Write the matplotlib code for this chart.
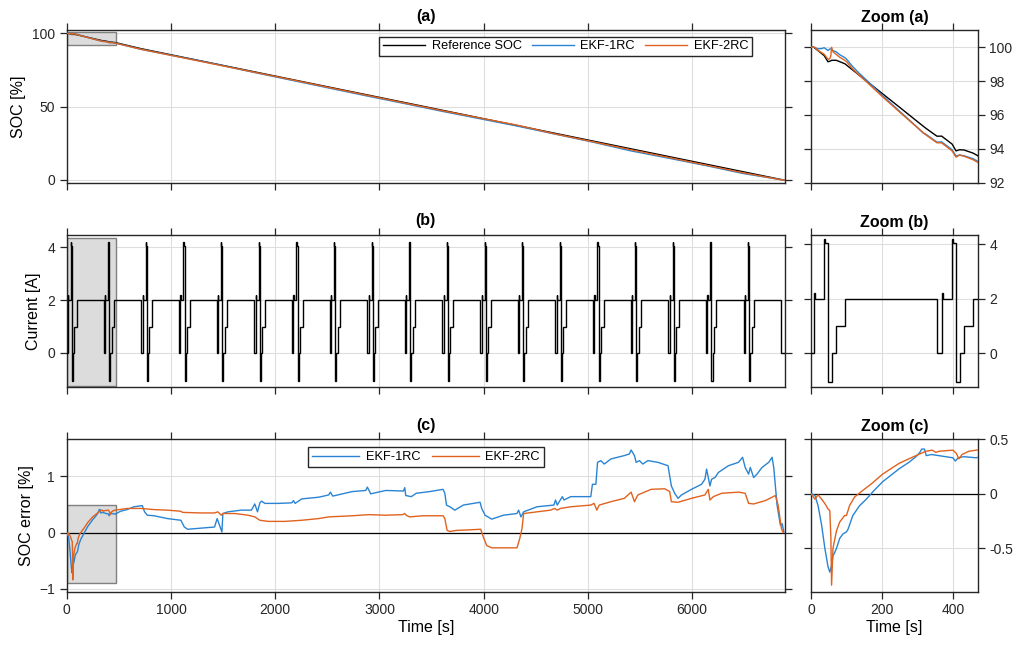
import matplotlib
matplotlib.use('Agg')
import matplotlib.pyplot as plt
from matplotlib.patches import Rectangle
import numpy as np

plt.rcParams['font.family'] = ['Liberation Sans', 'DejaVu Sans']

# ---- current profile: one pulse cycle (b) / Zoom (b)
cycle_levels = [0, 2.2, 2.0, 4.2, 4.05, -1.05, 0, 1.0, 2.0]     # A
cycle_durations = [14, 2, 27, 3, 8, 10, 13, 25, 259]            # s
n_cycles = 19
first_cycle_start = -6
t_end = 6890

# ---- SOC [%]: reference and estimates
soc_t = [0, 8, 10, 20, 30, 37, 40, 48, 53, 56, 58, 62, 71, 81, 96, 100, 118, 137,
         156, 202, 249, 296, 317, 323, 355, 369, 371, 398, 401, 409, 419, 432, 457,
         470, 716, 1077, 1438, 1799, 2160, 2521, 2882, 3243, 3604, 3965, 4326,
         4687, 5048, 5409, 5770, 6131, 6492, 6853, 6890]
soc_ref = [100, 100, 99.96, 99.8, 99.63, 99.51, 99.41, 99.14, 99.18, 99.2, 99.23,
           99.23, 99.23, 99.15, 99.02, 98.95, 98.65, 98.33, 98.02, 97.25, 96.47,
           95.68, 95.33, 95.23, 94.75, 94.75, 94.71, 94.28, 94.17, 93.88, 93.95,
           93.93, 93.75, 93.6, 89.45, 84.2, 78.95, 73.7, 68.45, 63.2, 57.95, 52.7,
           47.45, 42.2, 36.95, 31.7, 26.45, 21.2, 15.95, 10.7, 5.45, 0.2, 0.0]
soc_1rc = [100, 100, 99.98, 99.91, 99.92, 99.97, 99.93, 99.81, 99.9, 99.9, 99.89,
           99.8, 99.73, 99.56, 99.38, 99.3, 98.85, 98.44, 98.07, 97.14, 96.24,
           95.34, 94.92, 94.88, 94.4, 94.41, 94.37, 93.95, 93.84, 93.58, 93.64,
           93.59, 93.42, 93.27, 88.98, 83.94, 78.85, 73.25, 67.9, 62.54, 57.17,
           52.0, 46.69, 41.66, 36.6, 31.15, 25.7, 19.78, 14.8, 9.7, 4.25, 0.05, 0.0]
soc_2rc = [100, 100, 100, 99.81, 99.68, 99.59, 99.51, 99.28, 99.33, 99.5, 100.0,
           99.73, 99.58, 99.41, 99.22, 99.15, 98.71, 98.33, 97.97, 97.07, 96.19,
           95.33, 94.95, 94.84, 94.36, 94.35, 94.31, 93.88, 93.77, 93.51, 93.63,
           93.56, 93.36, 93.2, 89.02, 83.82, 78.6, 73.42, 68.24, 62.92, 57.64,
           52.38, 47.15, 42.14, 37.22, 31.26, 25.96, 20.55, 15.3, 10.03, 4.75, 0.0, 0.0]

# ---- SOC error [%] (reference - estimate)
err1_t = [0, 11, 20, 30, 39, 48, 53, 58, 62, 67, 72, 81, 90, 100, 104, 118, 137, 156,
          175, 202, 249, 277, 296, 307, 312, 320, 325, 340, 360, 380, 400, 407, 415,
          431, 466, 516, 580, 644, 725, 747, 773, 838, 967, 1095, 1128, 1160, 1289,
          1418, 1443, 1466, 1489, 1498, 1547, 1676, 1772, 1804, 1830, 1853, 1869,
          1901, 2030, 2159, 2175, 2191, 2255, 2417, 2513, 2529, 2552, 2739, 2868,
          2884, 2916, 3061, 3230, 3243, 3252, 3305, 3353, 3482, 3610, 3627, 3643,
          3675, 3723, 3804, 3965, 3981, 4013, 4077, 4190, 4319, 4335, 4357, 4383,
          4512, 4673, 4689, 4705, 4754, 4770, 4834, 5027, 5043, 5076, 5092, 5124,
          5156, 5220, 5349, 5398, 5414, 5446, 5462, 5494, 5526, 5575, 5671, 5768,
          5800, 5832, 5864, 5897, 5993, 6090, 6122, 6138, 6154, 6170, 6186, 6219,
          6251, 6347, 6444, 6483, 6508, 6541, 6557, 6589, 6621, 6670, 6734, 6766,
          6782, 6814, 6846, 6863, 6879]
err1 = [0, -0.015, -0.11, -0.29, -0.5, -0.67, -0.72, -0.66, -0.57, -0.54, -0.5,
        -0.41, -0.37, -0.35, -0.33, -0.2, -0.11, -0.05, 0.02, 0.11, 0.23, 0.29, 0.34,
        0.38, 0.41, 0.41, 0.35, 0.36, 0.35, 0.34, 0.33, 0.30, 0.33, 0.34, 0.33, 0.38,
        0.41, 0.46, 0.48, 0.37, 0.31, 0.30, 0.25, 0.22, 0.10, 0.06, 0.08, 0.10, 0.25,
        0.13, 0.01, 0.34, 0.37, 0.40, 0.40, 0.51, 0.37, 0.53, 0.56, 0.52, 0.52, 0.53,
        0.57, 0.52, 0.60, 0.63, 0.67, 0.72, 0.65, 0.73, 0.75, 0.81, 0.69, 0.75, 0.74,
        0.80, 0.66, 0.64, 0.70, 0.73, 0.77, 0.70, 0.49, 0.46, 0.40, 0.49, 0.54, 0.43,
        0.31, 0.24, 0.31, 0.34, 0.40, 0.28, 0.37, 0.46, 0.49, 0.58, 0.49, 0.64, 0.58,
        0.64, 0.64, 0.86, 0.86, 1.25, 1.28, 1.22, 1.31, 1.37, 1.40, 1.47, 1.37, 1.25,
        1.28, 1.22, 1.28, 1.25, 1.19, 0.83, 0.70, 0.61, 0.67, 0.77, 0.86, 0.95, 1.13,
        0.98, 0.83, 0.95, 0.98, 1.07, 1.19, 1.25, 1.34, 1.16, 1.04, 1.16, 0.98, 1.04,
        1.16, 1.25, 1.34, 1.16, 0.49, 0.13, 0.16, 0.01]

err2_t = [0, 11, 20, 30, 39, 48, 53, 56, 58, 62, 72, 81, 95, 100, 109, 123, 146, 170,
          202, 249, 296, 324, 342, 352, 361, 400, 410, 417, 426, 445, 466, 580, 709,
          838, 967, 1095, 1111, 1289, 1418, 1450, 1482, 1498, 1611, 1740, 1804, 1853,
          1933, 2094, 2255, 2417, 2513, 2739, 2900, 3061, 3222, 3243, 3256, 3288,
          3417, 3610, 3627, 3649, 3675, 3739, 3868, 3971, 3997, 4029, 4077, 4319,
          4345, 4367, 4383, 4512, 4641, 4680, 4705, 4737, 4834, 5027, 5059, 5085,
          5108, 5220, 5349, 5414, 5446, 5478, 5607, 5736, 5784, 5800, 5864, 5993,
          6122, 6154, 6170, 6203, 6283, 6444, 6508, 6541, 6589, 6702, 6798, 6824,
          6856, 6872]
err2 = [0, -0.05, -0.01, -0.05, -0.09, -0.14, -0.155, -0.4, -0.84, -0.5, -0.34,
        -0.26, -0.2, -0.2, -0.107, -0.03, 0.03, 0.09, 0.18, 0.28, 0.35, 0.39, 0.40,
        0.38, 0.39, 0.40, 0.37, 0.32, 0.36, 0.39, 0.40, 0.43, 0.43, 0.41, 0.40, 0.38,
        0.36, 0.35, 0.35, 0.37, 0.31, 0.34, 0.34, 0.31, 0.28, 0.22, 0.20, 0.20, 0.22,
        0.25, 0.28, 0.30, 0.32, 0.31, 0.32, 0.34, 0.31, 0.28, 0.30, 0.30, 0.25, 0.04,
        0.02, 0.04, 0.05, 0.06, -0.08, -0.23, -0.27, -0.27, -0.11, 0.07, 0.34, 0.37,
        0.40, 0.43, 0.40, 0.43, 0.46, 0.49, 0.52, 0.40, 0.49, 0.55, 0.61, 0.72, 0.55,
        0.67, 0.77, 0.78, 0.73, 0.55, 0.54, 0.61, 0.67, 0.77, 0.58, 0.64, 0.70, 0.72,
        0.70, 0.52, 0.51, 0.57, 0.66, 0.49, 0.07, 0.0]

c_ref = 'k'
c_1rc = '#2a84d2'
c_2rc = '#e0621f'
ax_col = '#262626'

# build current steps from the cycle pattern
t_edges = [first_cycle_start]
current = []
for k in range(n_cycles):
    for lev, d in zip(cycle_levels, cycle_durations):
        current.append(lev)
        t_edges.append(t_edges[-1] + d)
current.append(0)
t_edges.append(t_end)

zoom_x = (0, 470)
zoom_ylims = [(92, 101), (-1.25, 4.35), (-0.9, 0.5)]
main_ylims = [(-2, 102), (-1.3, 4.47), (-1.05, 1.66)]

fig = plt.figure(figsize=(10.2, 6.48), dpi=100)
bottoms = [0.718, 0.4023, 0.0869]
h = 0.2352
main_axes = [fig.add_axes([0.0654, b, 0.7042, h]) for b in bottoms]
zoom_axes = [fig.add_axes([0.7951, b, 0.1634, h]) for b in bottoms]


def style(ax):
    for s in ax.spines.values():
        s.set_color(ax_col)
        s.set_linewidth(1.0)
    ax.tick_params(direction='out', top=True, bottom=True, left=True, right=True,
                   length=5, width=0.9, colors=ax_col, labelsize=10, labelcolor=ax_col)
    ax.grid(True, color='#dedede', lw=0.8)
    ax.set_axisbelow(True)


# panel (a)
ax = main_axes[0]
ax.plot(soc_t, soc_ref, color=c_ref, lw=1.0, label='Reference SOC', zorder=3)
ax.plot(soc_t, soc_1rc, color=c_1rc, lw=1.0, label='EKF-1RC', zorder=3)
ax.plot(soc_t, soc_2rc, color=c_2rc, lw=1.0, label='EKF-2RC', zorder=3)
ax.set_yticks([0, 50, 100])
ax.set_ylabel('SOC [%]', fontsize=11.5)
ax.legend(loc='upper right', bbox_to_anchor=(0.954, 0.959), ncol=3, fontsize=9.2,
          fancybox=False, edgecolor=ax_col, framealpha=1, handlelength=3.3,
          borderaxespad=0, columnspacing=0.8, handletextpad=0.5, borderpad=0.3)

zx = zoom_axes[0]
zx.plot(soc_t, soc_ref, color=c_ref, lw=1.0, zorder=3)
zx.plot(soc_t, soc_1rc, color=c_1rc, lw=1.0, zorder=3)
zx.plot(soc_t, soc_2rc, color=c_2rc, lw=1.0, zorder=3)
zx.set_yticks([92, 94, 96, 98, 100])

# panel (b)
ax = main_axes[1]
ax.stairs(current, t_edges, baseline=None, color='k', lw=1.0, zorder=3)
ax.set_yticks([0, 2, 4])
ax.set_ylabel('Current [A]', fontsize=11.5)
zx = zoom_axes[1]
zx.stairs(current, t_edges, baseline=None, color='k', lw=1.0, zorder=3)
zx.set_yticks([0, 2, 4])

# panel (c)
ax = main_axes[2]
ax.axhline(0, color='k', lw=0.9, zorder=1.8)
ax.plot(err1_t, err1, color=c_1rc, lw=1.0, label='EKF-1RC', zorder=3)
ax.plot(err2_t, err2, color=c_2rc, lw=1.0, label='EKF-2RC', zorder=3)
ax.set_yticks([-1, 0, 1])
ax.set_ylabel('SOC error [%]', fontsize=11.5)
ax.set_xlabel('Time [s]', fontsize=11.5, labelpad=2)
ax.legend(loc='upper center', bbox_to_anchor=(0.5, 0.948), ncol=2, fontsize=9.2,
          fancybox=False, edgecolor=ax_col, framealpha=1, handlelength=3.7,
          borderaxespad=0, columnspacing=0.9, handletextpad=0.5, borderpad=0.3)
zx = zoom_axes[2]
zx.axhline(0, color='k', lw=0.9, zorder=1.8)
zx.plot(err1_t, err1, color=c_1rc, lw=1.0, zorder=3)
zx.plot(err2_t, err2, color=c_2rc, lw=1.0, zorder=3)
zx.set_yticks([-0.5, 0, 0.5])
zx.set_yticklabels(['-0.5', '0', '0.5'])
zx.set_xlabel('Time [s]', fontsize=11.5, labelpad=2)

for i, (ax, zx) in enumerate(zip(main_axes, zoom_axes)):
    style(ax)
    style(zx)
    ax.set_xlim(0, t_end)
    ax.set_xticks(range(0, 7000, 1000))
    ax.set_ylim(*main_ylims[i])
    zx.set_xlim(*zoom_x)
    zx.set_xticks([0, 200, 400])
    zx.set_ylim(*zoom_ylims[i])
    zx.tick_params(labelleft=False, labelright=True)
    if i < 2:
        ax.tick_params(labelbottom=False)
        zx.tick_params(labelbottom=False)
    lo, hi = zoom_ylims[i]
    ax.add_patch(Rectangle((zoom_x[0], lo), zoom_x[1] - zoom_x[0], hi - lo,
                           facecolor='#dcdcdc', edgecolor='#808080', lw=1.0, zorder=1.5))
    lab = '(' + 'abc'[i] + ')'
    ax.set_title(lab, fontsize=11.5, fontweight='bold', pad=7)
    zx.set_title('Zoom ' + lab, fontsize=11.5, fontweight='bold', pad=6)

fig.savefig('out.png', dpi=100)
